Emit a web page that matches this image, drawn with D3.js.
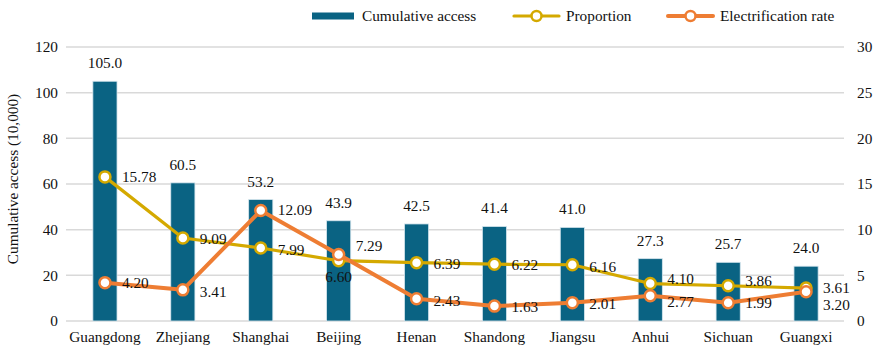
<!DOCTYPE html>
<html>
<head>
<meta charset="utf-8">
<script src="https://cdn.jsdelivr.net/npm/d3@7"></script>
<style>
  html, body { margin: 0; padding: 0; background: #fff; }
  svg text { font-family: "Liberation Serif", "Times New Roman", serif !important; }
</style>
</head>
<body>
<svg id="chart" width="880" height="350"></svg>
<script>
// Provinces and their values
const provinces = ["Guangdong", "Zhejiang", "Shanghai", "Beijing", "Henan", "Shandong", "Jiangsu", "Anhui", "Sichuan", "Guangxi"];
const cumulativeAccess = [105.0, 60.5, 53.2, 43.9, 42.5, 41.4, 41.0, 27.3, 25.7, 24.0];
const proportion = [15.78, 9.09, 7.99, 6.60, 6.39, 6.22, 6.16, 4.10, 3.86, 3.61];
const electrificationRate = [4.20, 3.41, 12.09, 7.29, 2.43, 1.63, 2.01, 2.77, 1.99, 3.20];
const leftTicks = [0, 20, 40, 60, 80, 100, 120];
const rightTicks = [0, 5, 10, 15, 20, 25, 30];

// Label placement for the line series: "r" = right of point, "b" = below point
const proportionLabelPos = ["r", "r", "r", "b", "r", "r", "r", "r", "r", "r"];
const proportionLabelDy = [0, 1, 2, 0, 1, 1, 2, -5, -5, 0];
const electrificationLabelPos = ["r", "r", "r", "r", "r", "r", "r", "r", "r", "r"];
const electrificationLabelDy = [0, 2, -1, -8, 2, 1, 1, 6, 0, 13.5];

const colors = { bar: "#0a6383", proportion: "#d4a900", electrification: "#ee7d33", grid: "#d9d9d9", text: "#111" };
const FONT = 15.3;

const svg = d3.select("#chart");
const margin = { left: 66, right: 35, top: 47, bottom: 29 };
const W = 880, H = 350;
const x0 = margin.left, x1 = W - margin.right;
const y0 = H - margin.bottom, y1 = margin.top;

const x = d3.scaleBand().domain(provinces).range([x0, x1]).paddingInner(0.69).paddingOuter(0.345);
const yL = d3.scaleLinear().domain([0, 120]).range([y0, y1]);
const yR = d3.scaleLinear().domain([0, 30]).range([y0, y1]);
const cx = d => x(d) + x.bandwidth() / 2;

// Gridlines
svg.append("g").selectAll("line").data(leftTicks).join("line")
  .attr("x1", x0).attr("x2", x1 - 1)
  .attr("y1", d => yL(d)).attr("y2", d => yL(d))
  .attr("stroke", colors.grid).attr("stroke-width", 1.5);

function styleAxis(g) {
  g.select(".domain").remove();
  g.selectAll("text").attr("font-size", FONT).attr("fill", colors.text);
}

// Left axis
svg.append("g").attr("transform", `translate(${x0 - 8},0)`)
  .call(d3.axisLeft(yL).tickValues(leftTicks).tickSize(0).tickPadding(0))
  .call(styleAxis);

// Right axis
svg.append("g").attr("transform", `translate(${x1 + 12},0)`)
  .call(d3.axisRight(yR).tickValues(rightTicks).tickSize(0).tickPadding(0))
  .call(styleAxis);

// Category axis
svg.append("g").attr("transform", `translate(0,${y0})`)
  .call(d3.axisBottom(x).tickSize(0).tickPadding(10))
  .call(styleAxis);

// Left axis title
svg.append("text")
  .attr("transform", `translate(18,179) rotate(-90)`)
  .attr("text-anchor", "middle").attr("font-size", FONT).attr("fill", colors.text)
  .text("Cumulative access (10,000)");

// Bars
svg.append("g").selectAll("rect").data(provinces).join("rect")
  .attr("x", d => x(d)).attr("width", x.bandwidth())
  .attr("y", (d, i) => yL(cumulativeAccess[i]))
  .attr("height", (d, i) => y0 - yL(cumulativeAccess[i]))
  .attr("fill", colors.bar).attr("stroke", "#d6e6ee").attr("stroke-width", 0.8);

svg.append("g").selectAll("text").data(provinces).join("text")
  .attr("x", d => cx(d)).attr("y", (d, i) => yL(cumulativeAccess[i]) - 13)
  .attr("text-anchor", "middle").attr("font-size", FONT).attr("fill", colors.text)
  .text((d, i) => cumulativeAccess[i].toFixed(1));

// Line series
function drawSeries(values, color, width) {
  const line = d3.line().x((d, i) => cx(provinces[i])).y(d => yR(d));
  const g = svg.append("g");
  g.append("path").datum(values).attr("d", line)
    .attr("fill", "none").attr("stroke", color).attr("stroke-width", width)
    .attr("stroke-linejoin", "round");
  g.selectAll("circle").data(values).join("circle")
    .attr("cx", (d, i) => cx(provinces[i])).attr("cy", d => yR(d)).attr("r", 5.5)
    .attr("fill", "#fff").attr("stroke", color).attr("stroke-width", 2.5);
}
function drawLabels(values, pos, dy) {
  svg.append("g").selectAll("text").data(values).join("text")
    .attr("x", (d, i) => pos[i] === "b" ? cx(provinces[i]) : cx(provinces[i]) + 17)
    .attr("y", (d, i) => (pos[i] === "b" ? yR(d) + 21 : yR(d) + 5) + dy[i])
    .attr("text-anchor", (d, i) => pos[i] === "b" ? "middle" : "start")
    .attr("font-size", FONT).attr("fill", colors.text)
    .text(d => d.toFixed(2));
}

drawSeries(proportion, colors.proportion, 3.2);
drawSeries(electrificationRate, colors.electrification, 4);
drawLabels(proportion, proportionLabelPos, proportionLabelDy);
drawLabels(electrificationRate, electrificationLabelPos, electrificationLabelDy);

// Legend
const legend = svg.append("g");
legend.append("rect").attr("x", 312).attr("y", 12.5).attr("width", 42).attr("height", 7).attr("fill", colors.bar);
legend.append("text").attr("x", 362).attr("y", 21).attr("font-size", FONT).attr("fill", colors.text).text("Cumulative access");
[[514, colors.proportion, 3.2, "Proportion"], [668, colors.electrification, 4, "Electrification rate"]].forEach(([lx, c, w, label]) => {
  legend.append("line").attr("x1", lx).attr("x2", lx + 45).attr("y1", 16).attr("y2", 16)
    .attr("stroke", c).attr("stroke-width", w).attr("stroke-linecap", "round");
  legend.append("circle").attr("cx", lx + 22.5).attr("cy", 16).attr("r", 5)
    .attr("fill", "#fff").attr("stroke", c).attr("stroke-width", 2.5);
  legend.append("text").attr("x", lx + 52).attr("y", 21).attr("font-size", FONT).attr("fill", colors.text).text(label);
});
</script>
</body>
</html>
